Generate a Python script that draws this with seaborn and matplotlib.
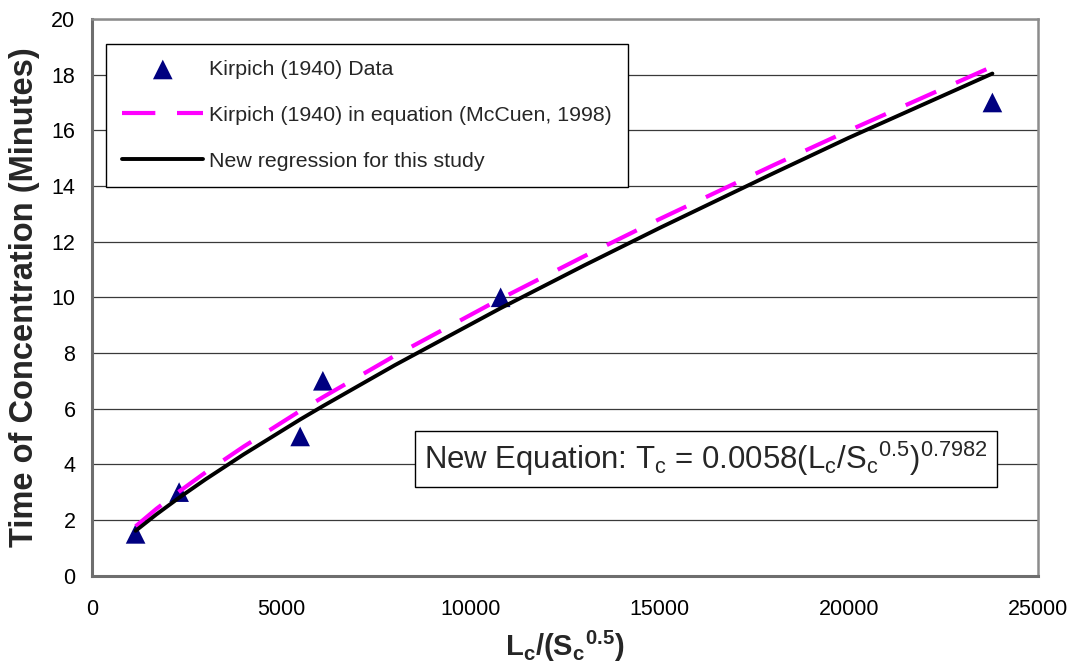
import pandas as pd
import seaborn as sns
import matplotlib.pyplot as plt

# Kirpich (1940) observed data
data_x = [1150, 2300, 5500, 6100, 10800, 23800]
data_tc = [1.5, 3, 5, 7, 10, 17]

# values
curve_x = [1150, 1700, 2300, 3000, 4000, 5500, 6100, 8000, 10800, 13000, 15000, 18000, 20000, 23800]
kirpich_tc = [1.77, 2.40, 3.02, 3.71, 4.63, 5.92, 6.41, 7.90, 9.95, 11.47, 12.81, 14.74, 15.99, 18.29]
regression_tc = [1.61, 2.20, 2.80, 3.46, 4.35, 5.61, 6.09, 7.56, 9.61, 11.14, 12.49, 14.45, 15.73, 18.04]

x_ticks = [0, 5000, 10000, 15000, 20000, 25000]
y_ticks = [0, 2, 4, 6, 8, 10, 12, 14, 16, 18, 20]

labels = [
    "Kirpich (1940) Data",
    "Kirpich (1940) in equation (McCuen, 1998)",
    "New regression for this study",
]

# plot esthetics
sns.set_style("white")
plt.rcParams["font.family"] = ["Liberation Sans", "DejaVu Sans"]
plt.rcParams["mathtext.fontset"] = "custom"
plt.rcParams["mathtext.rm"] = "Liberation Sans"
plt.rcParams["mathtext.bf"] = "Liberation Sans:bold"
plt.rcParams["mathtext.it"] = "Liberation Sans:italic"

df_pts = pd.DataFrame({"x": data_x, "tc": data_tc})
df_curves = pd.DataFrame({"x": curve_x, "kirpich": kirpich_tc, "regression": regression_tc})

fig = plt.figure(figsize=(10.71, 6.69), dpi=100)
ax = fig.add_axes([0.086, 0.1396, 0.883, 0.832])

sns.lineplot(data=df_curves, x="x", y="kirpich", ax=ax, color="#FF00FF",
             linewidth=3.0, errorbar=None, zorder=3)
ax.lines[-1].set_dashes((8, 5.2))
sns.lineplot(data=df_curves, x="x", y="regression", ax=ax, color="black",
             linewidth=2.8, errorbar=None, zorder=4)
sns.scatterplot(data=df_pts, x="x", y="tc", ax=ax, marker="^", s=200,
                color="#000080", edgecolor="none", linewidth=0, zorder=2)

ax.set_xlim(0, 25000)
ax.set_ylim(0, 20)
ax.set_xticks(x_ticks)
ax.set_yticks(y_ticks)
ax.tick_params(axis="both", labelsize=15.5, direction="out", length=6,
               width=1.5, color="#808080", pad=6, labelcolor="black")
ax.tick_params(axis="x", pad=11)

ax.yaxis.grid(True, color="#3a3a3a", linewidth=0.9)
ax.xaxis.grid(False)
ax.set_axisbelow(True)

for side in ["left", "bottom"]:
    ax.spines[side].set_color("#6e6e6e")
    ax.spines[side].set_linewidth(2.2)
for side in ["top", "right"]:
    ax.spines[side].set_visible(True)
    ax.spines[side].set_color("#8c8c8c")
    ax.spines[side].set_linewidth(1.8)

ax.set_xlabel(r"$\mathbf{L_c/(S_c{}^{0.5})}$", fontsize=21, labelpad=6)
ax.set_ylabel("Time of Concentration (Minutes)", fontsize=23.5,
              fontweight="bold", labelpad=8)

ax.text(0.649, 0.2095,
        r"New Equation: T$_\mathrm{c}$ = 0.0058(L$_\mathrm{c}$/S$_\mathrm{c}$$^\mathrm{0.5}$)$^\mathrm{0.7982}$",
        transform=ax.transAxes, ha="center", va="center", fontsize=22.4,
        bbox=dict(boxstyle="square,pad=0.3", facecolor="white",
                  edgecolor="black", linewidth=1.0), zorder=5)

# legend: data, Kirpich, regression
handles = [ax.collections[0], ax.lines[0], ax.lines[1]]
leg = ax.legend(handles, labels, loc="upper left",
                bbox_to_anchor=(0.0148, 0.955), borderaxespad=0,
                fontsize=15.4, handlelength=3.8, handletextpad=0.25,
                labelspacing=1.25, borderpad=0.75, frameon=True,
                fancybox=False, framealpha=1, edgecolor="black")
leg.get_frame().set_linewidth(1.0)

fig.savefig("out.png", dpi=100)
